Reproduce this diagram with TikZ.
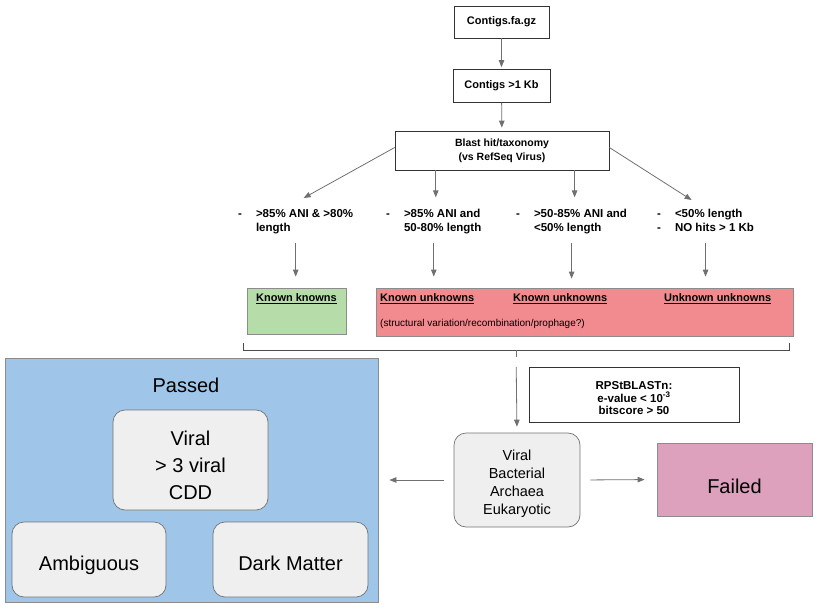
\documentclass[tikz,border=0pt]{standalone}
\usepackage{fontspec}
\setmainfont{Liberation Sans}
\usepackage{tikz}
\usetikzlibrary{arrows.meta,positioning,calc}

\definecolor{knowngreen}{HTML}{B6DCAA}
\definecolor{unkred}{HTML}{F28B8F}
\definecolor{passblue}{HTML}{9FC5E8}
\definecolor{failpink}{HTML}{DDA0BD}
\definecolor{softgray}{HTML}{EFEFEF}
\definecolor{linegray}{HTML}{707070}

\begin{document}
\begin{tikzpicture}[
    x=1pt, y=-1pt,
    stepbox/.style={rectangle, draw=black!80, line width=0.7pt, fill=white, inner sep=0pt, align=center, font=\fontsize{11}{13.5}\selectfont\bfseries},
    crit/.style={anchor=north west, inner sep=0pt, font=\fontsize{11.5}{14}\selectfont\bfseries},
    group/.style={rectangle, draw=black!45, line width=0.8pt, inner sep=0pt},
    rbox/.style={rectangle, rounded corners=12pt, draw=black!55, line width=0.7pt, fill=softgray, inner sep=0pt, align=center},
    tag/.style={anchor=west, inner sep=0pt, font=\fontsize{11}{13}\selectfont\bfseries},
    arrow/.style={-{Triangle[length=7pt, width=5.5pt]}, draw=linegray, line width=0.8pt}
]
\useasboundingbox (0,0) rectangle (822,608);

% Layer 0: input
\node[stepbox, minimum width=95pt, minimum height=32pt] (fa) at (501.5,22) {Contigs.fa.gz};
\node[stepbox, minimum width=97pt, minimum height=33pt] (kb) at (501.5,86) {Contigs >1 Kb};
\node[stepbox, minimum width=214pt, minimum height=39pt, font=\fontsize{10.5}{14}\selectfont\bfseries] (blast) at (502,150.5) {Blast hit/taxonomy\\(vs RefSeq Virus)};

% Layer 1: criteria
\node[crit] (c1) at (238,207) {\begin{tabular}{@{}l@{\hspace{14pt}}l@{}}-&>85\% ANI \& >80\%\\&length\end{tabular}};
\node[crit] (c2) at (386,207) {\begin{tabular}{@{}l@{\hspace{14pt}}l@{}}-&>85\% ANI and\\&50-80\% length\end{tabular}};
\node[crit] (c3) at (516,207) {\begin{tabular}{@{}l@{\hspace{14pt}}l@{}}-&>50-85\% ANI and\\&<50\% length\end{tabular}};
\node[crit] (c4) at (657,207) {\begin{tabular}{@{}l@{\hspace{14pt}}l@{}}-&<50\% length\\-&NO hits > 1 Kb\end{tabular}};

% Layer 2: categories
\node[group, fill=knowngreen, minimum width=99pt, minimum height=46pt] (kk) at (296.5,311) {};
\node[font=\fontsize{11}{13}\selectfont\bfseries, inner sep=0pt] (kklab) at (296.5,299) {\underline{Known knowns}};
\node[group, fill=unkred, minimum width=417pt, minimum height=48pt] (ku) at (584.5,312) {};
\node[tag] (ku1) at (380,299) {\underline{Known unknowns}};
\node[tag] (ku2) at (513,299) {\underline{Known unknowns}};
\node[tag] (uu) at (664,299) {\underline{Unknown unknowns}};
\node[anchor=west, inner sep=0pt, font=\fontsize{10}{12}\selectfont] (sv) at (380,324) {(structural variation/recombination/prophage?)};

% Bracket
\coordinate (bl) at (243,343);
\coordinate (br) at (789,343);
\coordinate (bm) at (516,350);
\draw[draw=black!70, line width=0.8pt] (bl) -- ++(0,7) -| (br);
\draw[draw=linegray, line width=0.8pt] (bm) -- ++(0,7);

% Layer 3: domain filter
\node[stepbox, minimum width=210pt, minimum height=55pt, text height=40pt, text depth=0pt, font=\fontsize{11.5}{12.5}\selectfont\bfseries] (rps) at (634,394.5) {RPStBLASTn:\\e-value < 10\textsuperscript{-3}\\bitscore > 50};
\node[rbox, minimum width=126pt, minimum height=94pt, text height=69pt, text depth=0pt, font=\fontsize{14.5}{18}\selectfont] (dom) at (517,480) {Viral\\Bacterial\\Archaea\\Eukaryotic};

% Layer 4: outcome
\node[group, fill=passblue, minimum width=373pt, minimum height=244pt] (pass) at (191.5,480) {};
\node[font=\fontsize{20}{24}\selectfont, inner sep=0pt] (passlab) at (186,385) {Passed};
\node[rbox, minimum width=155pt, minimum height=100pt, text height=78pt, text depth=0pt, font=\fontsize{20}{27}\selectfont] (vir) at (190.5,460) {Viral\\> 3 viral\\CDD};
\node[rbox, minimum width=154pt, minimum height=75pt, text height=22pt, text depth=0pt, font=\fontsize{20}{24}\selectfont] (amb) at (89,559.5) {Ambiguous};
\node[rbox, minimum width=155pt, minimum height=75pt, text height=21pt, text depth=0pt, font=\fontsize{20}{24}\selectfont] (dm) at (290.5,559.5) {Dark Matter};
\node[group, fill=failpink, minimum width=155pt, minimum height=73pt, text height=28pt, text depth=0pt, font=\fontsize{20}{24}\selectfont] (fail) at (734.5,479.5) {Failed};

% Edges
\draw[arrow, shorten >=2pt] (fa) -- (kb);
\draw[arrow, shorten >=3pt] (kb) -- (blast);
\draw[arrow] (blast.west) ++(0,-3) -- ($(c1.north)+(8,-9)$);
\draw[arrow] (blast.south -| c2.north) ++(2,0) -- ++(0,27);
\draw[arrow] (blast.south -| c3.north) ++(3,0) -- ++(0,27);
\draw[arrow] (blast.east) ++(0,-3) -- ($(c4.north)+(-14,-7)$);
\draw[arrow, shorten <=8pt, shorten >=11pt] (c1.south) -- (c1.south |- kk.north);
\draw[arrow, shorten <=8pt, shorten >=11pt] (c2.south) -- (c2.south |- ku.north);
\draw[arrow, shorten <=8pt, shorten >=9pt] (c3.south) -- (c3.south |- ku.north);
\draw[arrow, shorten <=8pt, shorten >=11pt] (c4.south) -- (c4.south |- ku.north);
\draw[arrow, shorten <=17pt, shorten >=6pt] (bm) -- (dom.north);
\draw[arrow, shorten <=10pt, shorten >=11pt] (dom.west) -- (pass.east);
\draw[arrow, shorten <=10pt, shorten >=12pt] (dom.east) -- (fail.west);
\end{tikzpicture}
\end{document}
